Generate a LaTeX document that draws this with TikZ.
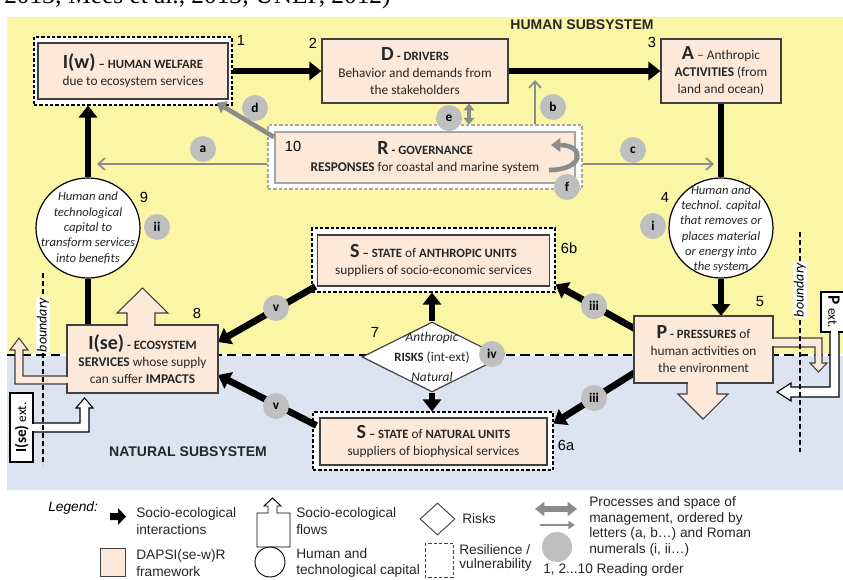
\documentclass[tikz,border=0pt]{standalone}
\usepackage{fontspec}
\setmainfont{Carlito}
\newfontfamily\arialf{Liberation Sans}
\newfontfamily\timesf{Liberation Serif}
\usetikzlibrary{arrows.meta,shapes.geometric,calc}

\definecolor{ybg}{HTML}{FAF6A6}
\definecolor{bbg}{HTML}{DBE4F0}
\definecolor{peach}{HTML}{FDE9D9}
\definecolor{edge}{HTML}{404040}
\definecolor{mgray}{HTML}{8C8C8C}
\definecolor{lgray}{HTML}{BFBFBF}
\definecolor{rgray}{HTML}{A6A6A6}

\newcommand\Lg[1]{{\fontsize{15}{15}\selectfont\bfseries #1}}
\newcommand\Kw[1]{{\fontsize{9.5}{10}\selectfont\bfseries #1}}

\tikzset{
  sz/.style n args={2}{minimum width=#1*0.75pt, minimum height=#2*0.75pt},
  peachbox/.style={draw=edge, line width=0.9pt, fill=peach, align=center, inner sep=0pt,
    font=\fontsize{10}{12.75}\selectfont, text=black!85},
  resil/.style={draw=black, dash pattern=on 2.5pt off 1.5pt, line width=0.8pt, fill=white, inner sep=0pt},
  capshape/.style={ellipse, draw=black, line width=0.9pt, fill=white, inner sep=0pt,
    minimum width=78pt, minimum height=75pt},
  captext/.style={align=center, inner sep=0pt, font=\fontsize{9.5}{11.5}\selectfont\itshape, text=black!85},
  mtag/.style={circle, fill=lgray, inner sep=0pt, minimum size=19.5pt, font=\fontsize{10}{10}\selectfont\bfseries},
  ordnum/.style={font=\arialf\fontsize{11}{11}\selectfont, inner sep=0pt},
  interact/.style={line width=5pt, -{Triangle[length=9pt,width=13.5pt]}},
  tie/.style={line width=5pt},
  mgmt/.style={draw=mgray, line width=1.3pt, -{Straight Barb[length=5pt,width=9pt]}},
  mgmtthick/.style={draw=mgray, line width=3.5pt, -{Triangle[length=7pt,width=10pt]}},
  flowshape/.style={draw=edge, line width=0.8pt, fill=peach},
  extflow/.style={draw=black, line width=0.8pt, fill=white},
  boundaryline/.style={line width=1.4pt, dash pattern=on 4pt off 2pt},
  boundarylabel/.style={rotate=90, fill=white, inner sep=0.8pt, font=\itshape\fontsize{10.5}{10.5}\selectfont},
  legtext/.style={font=\arialf\fontsize{10.3}{12.5}\selectfont, align=left, anchor=west, inner sep=0pt, text=black!85},
  subsys/.style={font=\arialf\bfseries\fontsize{10.5}{12}\selectfont, text=black!85, inner sep=0pt},
}

\begin{document}
\begin{tikzpicture}[x=0.75pt, y=-0.75pt]
\useasboundingbox (0,0) rectangle (843,579);

% backgrounds
\fill[white] (0,0) rectangle (843,579);
\fill[ybg] (7,17) rectangle (843,355);
\fill[bbg] (7,355) rectangle (843,490);
\node[anchor=base west, inner sep=0pt, font=\timesf\fontsize{19}{19}\selectfont] (cap) at (4,3.5) {2013; Mees et al., 2013; UNEP, 2012)};

% border between the two subsystems
\draw[white, line width=2pt] (7,355) -- (843,355);
\draw[black, line width=2pt, dash pattern=on 7pt off 4pt] (7,355) -- (843,355);

% node shapes (placed first so connectors can refer to them)
\node[resil, sz={198}{68}] (iwr) at (133,71) {};
\node[resil, draw=rgray, sz={314}{64}] (rr) at (425,157) {};
\node[resil, sz={243}{64}] (sar) at (433.5,260) {};
\node[resil, sz={240}{58}] (snr) at (433,441) {};
\node[capshape] (c9) at (88,228) {};
\node[capshape] (c4) at (721,228) {};
\node[diamond, draw=edge, fill=white, line width=0.9pt, minimum width=105pt, minimum height=52.5pt, inner sep=0pt] (risk) at (432,357) {};
\node[peachbox, sz={186}{64}] (d) at (415,71) {\Lg{D} \Kw{- DRIVERS}\\Behavior and demands from\\the stakeholders};
\node[peachbox, sz={120}{64}] (a) at (721,71) {\Lg{A} – Anthropic\\\textbf{ACTIVITIES} (from\\land and ocean)};

% socio-ecological interactions
\draw[interact] (iwr.east) -- (d.west);
\draw[interact] (d.east) -- (a.west);
\draw[tie] (a.south) -- (c4.north);
\draw[interact] (c4.south) -- (c4.south |- 0,316);
\draw[tie] (c9.south) -- (c9.south |- 0,325);
\draw[interact] (c9.north) -- (c9.north |- iwr.south);
\draw[interact] (risk.north) -- (risk.north |- sar.south);
\draw[interact] (risk.south) -- (risk.south |- snr.north);
\draw[interact] (638,330.5) -- ($(sar.south east)+(0,-8)$);
\draw[interact] (638,370.5) -- ($(snr.north east)+(0,12)$);
\draw[interact] ($(sar.south west)+(4,-6)$) -- (218,342);
\draw[interact] ($(snr.north west)+(4,14)$) -- (218,375);

% socio-ecological flows
\draw[flowshape] (127,326) -- (127,313) -- (117,313) -- (142.5,288) -- (168,313) -- (155,313) -- (155,326) -- cycle;
\draw[flowshape] (68,376) -- (23,376) -- (23,350) -- (28,350) -- (19,338) -- (10,350) -- (15,350) -- (15,384) -- (68,384) -- cycle;
\draw[flowshape] (687,382) -- (687,394) -- (678,394) -- (703,419) -- (728,394) -- (717,394) -- (717,382) -- cycle;
\draw[flowshape] (772,338) -- (822,338) -- (822,363) -- (827,363) -- (818.5,372) -- (810,363) -- (815,363) -- (815,347) -- (772,347) -- cycle;
\draw[extflow] (32,423) -- (80,423) -- (80,408) -- (76,408) -- (84.5,398) -- (93,408) -- (89,408) -- (89,432) -- (32,432) -- cycle;
\draw[extflow] (830,331) -- (830,387) -- (791,387) -- (791,383) -- (777,392) -- (791,401) -- (791,397) -- (839,397) -- (839,331) -- cycle;

% DAPSI(se-w)R boxes
\node[peachbox, sz={190}{56}] (iw) at (133,71) {\Lg{I(w)} \Kw{– HUMAN WELFARE}\\due to ecosystem services};
\node[peachbox, draw=rgray, sz={300}{51}] (r) at (425,157.5) {\Lg{R} \Kw{- GOVERNANCE}\\\textbf{RESPONSES} for coastal and marine system};
\node[peachbox, sz={232}{51}] (sa) at (433.5,260.5) {\Lg{S} \Kw{– STATE} of \Kw{ANTHROPIC UNITS}\\suppliers of socio-economic services};
\node[peachbox, sz={227}{47}] (sn) at (433.5,441.5) {\Lg{S} \Kw{– STATE} of \Kw{NATURAL UNITS}\\suppliers of biophysical services};
\node[peachbox, sz={151}{68}] (ise) at (142.5,359) {\Lg{I(se)} \Kw{- ECOSYSTEM}\\\textbf{SERVICES} whose supply\\can suffer \textbf{IMPACTS}};
\node[peachbox, sz={139}{67}] (p) at (703.5,349.5) {\Lg{P} \Kw{- PRESSURES} of\\human activities on\\the environment};
% joints between boxes and their flows
\fill[peach] (127.6,323.5) rectangle (154.4,327);
\fill[peach] (65.5,376.6) rectangle (69,383.4);
\fill[peach] (687.6,381) rectangle (716.4,384.5);
\fill[peach] (772,338.6) rectangle (775,346.4);

% texts of the capital circles and of the risks
\node[captext] (c9t) at (c9) {Human and\\technological\\capital to\\transform services\\into benefits};
\node[captext] (c4t) at (721,229) {Human and\\technol. capital\\that removes or\\places material\\or energy into\\the system};
\node[align=center, inner sep=0pt, font=\fontsize{10}{15}\selectfont, text=black!85] (riskt) at (risk) {\textit{Anthropic}\\\Kw{RISKS} (int-ext)\\\textit{Natural}};

% external boxes
\node[draw=black, fill=white, line width=0.8pt, sz={23}{69}, inner sep=0pt] (isex) at (21.5,427.5) {};
\fill[white] (31,423.6) rectangle (34.5,431.4);
\node[rotate=90, inner sep=0pt, font=\fontsize{10}{10}\selectfont] (isext) at (isex.center) {{\fontsize{11.5}{11.5}\selectfont\bfseries I(se)} ext.};
\node[draw=black, fill=white, line width=0.8pt, sz={26}{40}, inner sep=0pt] (pex) at (834,312) {};
\fill[white] (830.6,330) rectangle (838.4,333.5);
\node[rotate=-90, inner sep=0pt, font=\fontsize{10}{10}\selectfont] (pext) at (pex.center) {{\fontsize{13}{13}\selectfont\bfseries P} ext.};

% boundaries
\draw[boundaryline] (43,273) -- (43,465);
\draw[boundaryline] (800,232) -- (800,452);
\node[boundarylabel] (bl) at (43,325) {boundary};
\node[boundarylabel] (br) at (800,290) {boundary};

% management processes
\coordinate (aend) at (97,164);
\coordinate (cend) at (714,164);
\coordinate (bend) at (535,80);
\coordinate (dstart) at (274,137);
\coordinate (fstart) at (549,170);
\coordinate (fend) at (551,145);
\draw[mgmt] ($(rr.west)+(0,7)$) -- (aend);
\draw[mgmt] ($(rr.east)+(0,7)$) -- (cend);
\draw[mgmt] ($(rr.north)+(110,0)$) -- (bend);
\draw[mgmtthick] (dstart) -- ($(iwr.south east)+(-16,-3)$);
\draw[draw=mgray, line width=3pt, {Triangle[length=5pt,width=8pt]}-{Triangle[length=5pt,width=8pt]}] ($(d.south)+(54,0)$) -- ($(rr.north)+(44,0)$);
\draw[mgmtthick] (fstart) .. controls (585,170) and (585,145) .. (fend);

% process tags
\node[mtag] (ta) at (203,149) {a};
\node[mtag] (tb) at (553,107) {b};
\node[mtag] (tc) at (633,150) {c};
\node[mtag] (td) at (255,108) {d};
\node[mtag] (te) at (449,118) {e};
\node[mtag] (tf) at (567,187) {f};
\node[mtag] (ti) at (653,226) {i};
\node[mtag] (tii) at (157,227) {ii};
\node[mtag] (tiii1) at (594,306) {iii};
\node[mtag] (tiii2) at (594,398) {iii};
\node[mtag] (tiv) at (492,354) {iv};
\node[mtag] (tv1) at (276,308) {v};
\node[mtag] (tv2) at (276,406) {v};

% reading order
\node[ordnum] (n1) at (241,40) {1};
\node[ordnum] (n2) at (313,43) {2};
\node[ordnum] (n3) at (652,42) {3};
\node[ordnum] (n4) at (665,197) {4};
\node[ordnum] (n5) at (760,302) {5};
\node[ordnum] (n6a) at (566,445) {6a};
\node[ordnum] (n6b) at (569,248) {6b};
\node[ordnum] (n7) at (375,332) {7};
\node[ordnum] (n8) at (197,313) {8};
\node[ordnum] (n9) at (144,197) {9};
\node[ordnum] (n10) at (293,146) {10};

% subsystem titles
\node[subsys] (hum) at (582,25) {HUMAN SUBSYSTEM};
\node[subsys] (nat) at (188,452) {NATURAL SUBSYSTEM};

% legend
\node[anchor=west, inner sep=0pt, font=\arialf\itshape\fontsize{10.3}{12}\selectfont] (legt) at (48,508) {Legend:};
\fill (110,513) -- (118,513) -- (118,508) -- (126,516.5) -- (118,525) -- (118,520) -- (110,520) -- cycle;
\node[legtext] (l1) at (136,521) {Socio-ecological\\interactions};
\draw[black, line width=0.7pt, fill=white] (257,547) -- (257,513) -- (268,513) -- (268,506) -- (264,506) -- (272.5,498) -- (281,506) -- (277,506) -- (277,513) -- (290,513) -- (290,547) -- cycle;
\node[legtext] (l2) at (296,521) {Socio-ecological\\flows};
\node[diamond, draw=edge, line width=0.7pt, minimum width=26.25pt, minimum height=24pt, inner sep=0pt] (ldiam) at (437.5,519) {};
\node[legtext] (l3) at (462,519) {Risks};
\draw[edge, line width=0.7pt, dash pattern=on 2.5pt off 1.5pt] (425,543) rectangle (453,577);
\node[legtext, font=\arialf\fontsize{10.3}{10.5}\selectfont] (l4) at (459,558) {Resilience /\\vulnerability};
\draw[mgray, line width=4.5pt, {Triangle[length=7pt,width=10.5pt]}-{Triangle[length=7pt,width=10.5pt]}] (535,509) -- (577,509);
\draw[mgray, line width=2pt, -{Triangle[length=5pt,width=6pt]}] (540,525) -- (575,525);
\fill[lgray] (557,547) circle (11.25pt);
\node[legtext] (l5) at (543,570) {1, 2...10 Reading order};
\node[legtext, font=\arialf\fontsize{10.3}{11.6}\selectfont] (l6) at (589,526.5) {Processes and space of\\management, ordered by\\letters (a, b…) and Roman\\numerals (i, ii…)};
\draw[edge, fill=peach, line width=0.7pt] (100,548) rectangle (125,576);
\node[legtext] (l7) at (136,563) {DAPSI(se-w)R\\framework};
\draw[line width=0.7pt, fill=white] (270,562) circle (11.25pt);
\node[legtext] (l8) at (296,563) {Human and\\technological capital};
\end{tikzpicture}
\end{document}
